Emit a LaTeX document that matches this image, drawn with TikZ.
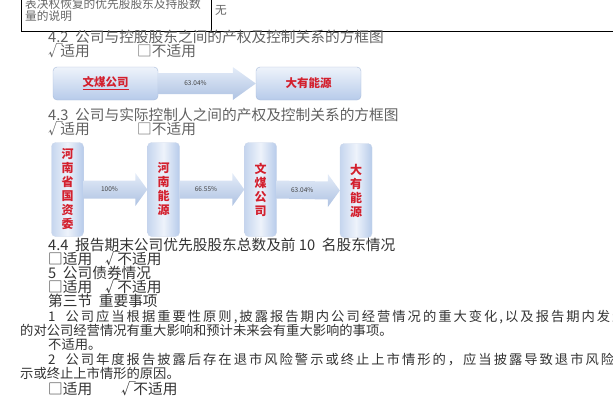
\documentclass[tikz,border=0pt]{standalone}
\usepackage{fontspec}
\setmainfont{Noto Sans CJK SC}
\usetikzlibrary{calc,positioning}
\definecolor{boxhi}{HTML}{EEF3FB}
\definecolor{boxlo}{HTML}{B7CBEA}
\definecolor{flowhi}{HTML}{E4ECF8}
\definecolor{flowlo}{HTML}{AEC2E2}
\definecolor{boxred}{HTML}{D3202E}
\definecolor{edgeblue}{HTML}{A8BBDA}
\newcommand{\tick}{√\kern-2.5pt}
\tikzset{
	txt/.style={anchor=west, inner sep=0pt, text height=9pt, text depth=1.5pt, text=black!80, font=\fontsize{13.3}{14}\selectfont},
	wide/.style={txt, font=\fontsize{13.3}{14}\selectfont\addfontfeature{LetterSpace=15}},
	sec/.style={txt, text height=9.5pt, text depth=1.5pt, font=\fontsize{14.7}{16}\selectfont},
	head/.style={sec, text=black!62},
	tab/.style={txt, text height=8pt, text depth=1pt, text=black!60, font=\fontsize{11.7}{12}\selectfont},
	hbox/.style={draw=edgeblue, line width=0.4pt, rounded corners=4pt, minimum width=105pt, minimum height=33pt,
		top color=boxhi, bottom color=boxlo, text=boxred, font=\bfseries\fontsize{11.5}{12}\selectfont},
	vbox/.style={draw=edgeblue!60, line width=0.3pt, rounded corners=4pt, minimum width=32pt, minimum height=94pt,
		left color=boxlo!80, right color=boxlo, middle color=boxhi, align=center, text=boxred,
		font=\bfseries\fontsize{12}{14}\selectfont},
	flow/.style={top color=flowhi, bottom color=flowlo},
	flowlabel/.style={inner sep=0pt, text=black!75, font=\fontsize{6.5}{7}\selectfont}
}

\begin{document}
\begin{tikzpicture}[x=1pt, y=-1pt]
	\useasboundingbox (0,0) rectangle (613,410);

	% table row left over from the page before
	\draw[line width=0.7pt] (21,-2) -- (21,31) -- (613,31);
	\draw[line width=0.7pt] (211,-2) -- (211,31);
	\node[tab] (t0a) at (25,5)	{表决权恢复的优先股股东及持股数};
	\node[tab] (t0b) at (25,17)	{量的说明};
	\node[tab] (t0c) at (215,11)	{无};

	% 4.2
	\node[head] (h42) at (48,38.5)	{4.2\ \ 公司与控股股东之间的产权及控制关系的方框图};
	\node[head] (c42a) at (48,52.5)	{\tick 适用};
	\node[head] (c42b) at (137,52.5)	{□不适用};

	\node[hbox] (wm) at (105.5,83.5)	{\underline{文煤公司}};
	\node[hbox] (dy) at (308.5,83.5)	{大有能源};

	% 4.3
	\node[head] (h43) at (48,116.5)	{4.3\ \ 公司与实际控制人之间的产权及控制关系的方框图};
	\node[head] (c43a) at (48,130.5)	{\tick 适用};
	\node[head] (c43b) at (137,130.5)	{□不适用};

	\node[vbox] (g) at (67.5,189.5)	{河\\南\\省\\国\\资\\委};
	\node[vbox] (h) at (163.5,189.5)	{河\\南\\能\\源};
	\node[vbox] (w) at (260.5,189.5)	{文\\煤\\公\\司};
	\node[vbox] (d) at (356,190.5)	{大\\有\\能\\源};

	\foreach \a/\b/\s/\h/\l/\t in {wm/dy/10.5/16.5/23/63.04\%, g/h/9/16.5/12/100\%, h/w/9/16.5/12/66.55\%, w/d/9/16.5/12/63.04\%} {
		\coordinate (n-\a) at ($(\b.west)+(-\l,0)$);
		\path[flow] ($(\a.east)+(0,-\s)$) -- ($(n-\a)+(0,-\s)$) -- ($(n-\a)+(0,-\h)$) -- (\b.west)
			-- ($(n-\a)+(0,\h)$) -- ($(n-\a)+(0,\s)$) -- ($(\a.east)+(0,\s)$) -- cycle;
		\node[flowlabel] (l-\a) at ($(\a.east)!0.5!(n-\a)$) {\t};
	}

	% 4.4 onwards
	\node[sec] (h44) at (48,246.5)	{4.4\ \ 报告期末公司优先股股东总数及前 10\ \ 名股东情况};
	\node[sec] (c44a) at (48,260.5)	{□适用};
	\node[sec] (c44b) at (105,260.5)	{\tick 不适用};
	\node[sec] (h5) at (48,274.5)	{5\ \ 公司债券情况};
	\node[sec] (c5a) at (48,288.5)	{□适用};
	\node[sec] (c5b) at (105,288.5)	{\tick 不适用};
	\node[sec] (s3) at (48,302.5)	{第三节\ \ 重要事项};
	\node[wide] (p1a) at (48,317.5)	{1\ \ 公司应当根据重要性原则,披露报告期内公司经营情况的重大变化,以及报告期内发生};
	\node[txt] (p1b) at (20,331.5)	{的对公司经营情况有重大影响和预计未来会有重大影响的事项。};
	\node[txt] (p1c) at (48,345.5)	{不适用。};
	\node[wide] (p2a) at (48,360.5)	{2\ \ 公司年度报告披露后存在退市风险警示或终止上市情形的，应当披露导致退市风险警};
	\node[txt] (p2b) at (20,375)	{示或终止上市情形的原因。};
	\node[sec] (c2a) at (48,390)	{□适用};
	\node[sec] (c2b) at (121,390)	{\tick 不适用};
\end{tikzpicture}
\end{document}
